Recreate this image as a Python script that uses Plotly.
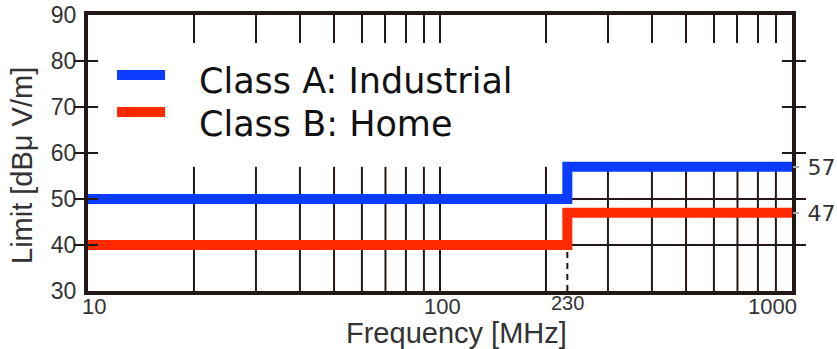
import math
import plotly.graph_objects as go

# Radiated emission limits (CISPR-style), log frequency axis
freq_steps = [10, 230, 1000]            # MHz, step points
class_a = [50, 57, 57]                  # dBuV/m, industrial
class_b = [40, 47, 47]                  # dBuV/m, home
series_names = ["Class A: Industrial", "Class B: Home"]
series_colors = ["#0a3cff", "#ff2a00"]

y_ticks = [30, 40, 50, 60, 70, 80, 90]
x_tick_vals = [10, 100, 230, 1000]
x_tick_text = ["10", "100", "230", "1000"]
minor_freqs = [20, 30, 40, 50, 60, 70, 80, 90, 100,
               200, 300, 400, 500, 600, 700, 800, 900]
h_grid_levels = [40, 50]

INK = "#231815"
GRAY_TXT = "#333333"
TICK_FONT = dict(family="Liberation Sans, Arial, sans-serif", size=23, color=GRAY_TXT)

fig = go.Figure()

# vertical grid up to the highest limit level
grid_top = max(class_a)
gx, gy = [], []
for f in minor_freqs:
    gx += [f, f, None]
    gy += [y_ticks[0], grid_top, None]
fig.add_trace(go.Scatter(x=gx, y=gy, mode="lines",
                         line=dict(color=INK, width=2),
                         hoverinfo="skip", showlegend=False))

# horizontal grid
hx, hy = [], []
for lv in h_grid_levels:
    hx += [freq_steps[0], freq_steps[-1], None]
    hy += [lv, lv, None]
fig.add_trace(go.Scatter(x=hx, y=hy, mode="lines",
                         line=dict(color=INK, width=2),
                         hoverinfo="skip", showlegend=False))

# dashed marker at the break frequency
fig.add_trace(go.Scatter(x=[freq_steps[1], freq_steps[1]],
                         y=[y_ticks[0], class_b[0]], mode="lines",
                         line=dict(color=INK, width=2, dash="6px,5px"),
                         hoverinfo="skip", showlegend=False))

# limit lines
for vals, name, col in [(class_b, series_names[1], series_colors[1]),
                        (class_a, series_names[0], series_colors[0])]:
    fig.add_trace(go.Scatter(x=freq_steps, y=vals, mode="lines", name=name,
                             line=dict(color=col, width=10, shape="hv"),
                             showlegend=False))

# invisible anchors so the secondary axes get drawn
fig.add_trace(go.Scatter(x=[freq_steps[-1]], y=[class_a[-1]], mode="markers",
                         marker=dict(opacity=0), yaxis="y2",
                         hoverinfo="skip", showlegend=False))
fig.add_trace(go.Scatter(x=[freq_steps[-1]], y=[class_a[-1]], mode="markers",
                         marker=dict(opacity=0), xaxis="x2",
                         hoverinfo="skip", showlegend=False))

fig.update_layout(
    width=837, height=349,
    margin=dict(l=88, r=45, t=15, b=58, autoexpand=False),
    paper_bgcolor="white", plot_bgcolor="white",
    xaxis=dict(type="log", range=[1, 3], showgrid=False, zeroline=False,
               showline=True, linecolor=INK, linewidth=4, mirror=True,
               ticks="", showticklabels=False, automargin=False),
    xaxis2=dict(type="log", range=[1, 3], overlaying="x", side="top",
                anchor="y", tickvals=minor_freqs, ticks="inside", ticklen=28,
                tickwidth=2, tickcolor=INK, showticklabels=False,
                showgrid=False, zeroline=False, showline=False,
                automargin=False),
    yaxis=dict(range=[30, 90], tickvals=y_ticks, ticks="inside", ticklen=10,
               tickwidth=2, tickcolor=INK, showgrid=False, zeroline=False,
               showline=True, linecolor=INK, linewidth=4, mirror="allticks",
               tickfont=TICK_FONT, automargin=False, ticklabelstandoff=3),
    yaxis2=dict(range=[30, 90], overlaying="y", side="right", anchor="x",
                tickvals=[class_a[-1], class_b[-1]], ticks="outside", ticklen=6,
                tickwidth=1.5, tickcolor="#aaaaaa", showgrid=False,
                zeroline=False, showline=False, ticklabelstandoff=4,
                automargin=False,
                tickfont=dict(family="DejaVu Sans, sans-serif", size=22,
                              color=GRAY_TXT)),
)

# x tick labels (annotation x on a log axis is given in log10 units)
shifts = {10: 6, 100: 2, 230: 0, 1000: -20}
for v, t in zip(x_tick_vals, x_tick_text):
    small = (v == 230)
    fig.add_annotation(x=math.log10(v), y=0, xref="x", yref="paper", text=t,
                       showarrow=False, xanchor="center", yanchor="top",
                       xshift=shifts[v], yshift=1 if small else -1,
                       font=dict(family=TICK_FONT["family"],
                                 size=20 if small else 22, color=GRAY_TXT))

# axis titles
fig.add_annotation(x=0.5, y=0, xref="paper", yref="paper",
                   text="Frequency [MHz]", showarrow=False,
                   xanchor="center", yanchor="top", xshift=16, yshift=-24,
                   font=dict(family=TICK_FONT["family"], size=29, color=GRAY_TXT))
fig.add_annotation(x=0, y=0.5, xref="paper", yref="paper",
                   text="Limit [dB\u03bc V/m]", showarrow=False, textangle=-90,
                   xanchor="center", yanchor="middle", xshift=-66, yshift=-13,
                   font=dict(family=TICK_FONT["family"], size=29, color=GRAY_TXT))

# legend keys and labels
legend_rows = [(0.7826, 0.76), (0.6486, 0.605)]
for (key_y, txt_y), name, col in zip(legend_rows, series_names, series_colors):
    fig.add_shape(type="line", xref="paper", yref="paper",
                  x0=0.0412, x1=0.1094, y0=key_y, y1=key_y,
                  line=dict(color=col, width=10))
    fig.add_annotation(x=0.1548, y=txt_y, xref="paper", yref="paper",
                       text=name, showarrow=False, xanchor="left",
                       yanchor="middle",
                       font=dict(family="DejaVu Sans, sans-serif", size=35,
                                 color="#111111"))

fig.write_html("out.html")
